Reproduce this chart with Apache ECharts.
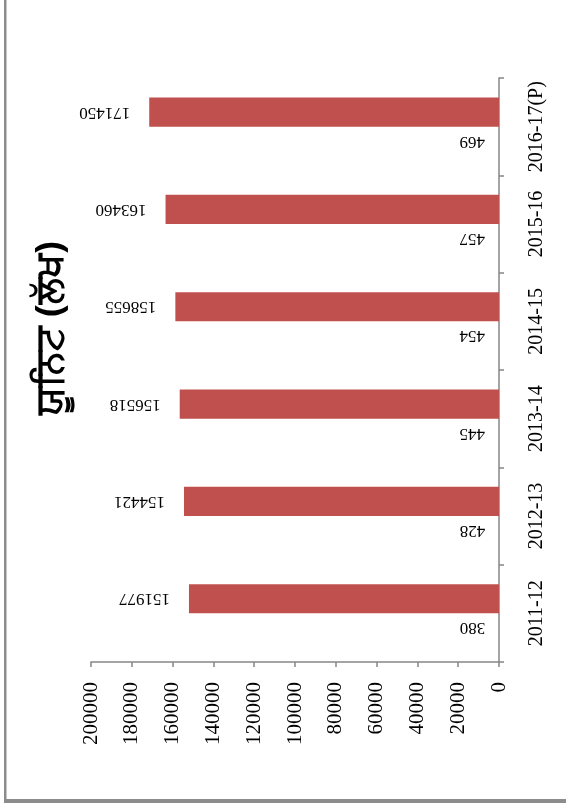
<!DOCTYPE html>
<html>
<head>
<meta charset="utf-8">
<script src="https://cdn.jsdelivr.net/npm/echarts@6/dist/echarts.min.js"></script>
<style>
html,body{margin:0;padding:0;background:#fff;}
#c{width:566px;height:803px;}
</style>
</head>
<body>
<div id="c"></div>
<script>
var categories = ['2011-12','2012-13','2013-14','2014-15','2015-16','2016-17(P)'];
var unitsLakh = [151977, 154421, 156518, 158655, 163460, 171450];
var smallSeries = [380, 428, 445, 454, 457, 469];
var titleText = 'ਯੂਨਿਟ (ਲੱਖ)';

var serif = 'Liberation Serif, Times New Roman, serif';
var chart = echarts.init(document.getElementById('c'));
chart.setOption({
  animation: false,
  backgroundColor: '#fff',
  grid: {left: 91, right: 67, top: 78, bottom: 141, containLabel: false},
  xAxis: {
    type: 'value', inverse: true, min: 0, max: 200000, interval: 20000,
    position: 'bottom',
    axisLine: {show: true, lineStyle: {color: '#868686', width: 1.5}},
    axisTick: {show: true, length: 5, lineStyle: {color: '#868686', width: 1.5}},
    splitLine: {show: false},
    axisLabel: {rotate: 90, margin: 20, color: '#000', fontFamily: serif, fontSize: 21,
                formatter: function (v) { return String(v); }}
  },
  yAxis: {
    type: 'category', data: categories, position: 'right',
    axisLine: {show: true, lineStyle: {color: '#868686', width: 1.5}},
    axisTick: {show: true, length: 5, alignWithLabel: false, lineStyle: {color: '#868686', width: 1.5}},
    splitLine: {show: false},
    axisLabel: {rotate: 90, margin: 28, interval: 0, hideOverlap: false, color: '#000', fontFamily: serif, fontSize: 20}
  },
  series: [
    {
      type: 'bar', data: unitsLakh, barGap: '0%', barCategoryGap: '40%',
      itemStyle: {color: '#C0504D'},
      label: {show: true, position: 'left', distance: 19, rotate: 180, align: 'left', verticalAlign: 'middle',
              color: '#000', fontFamily: serif, fontSize: 17}
    },
    {
      type: 'bar', data: smallSeries, barGap: '0%', barCategoryGap: '40%',
      itemStyle: {color: 'rgba(79,129,189,0)'},
      label: {show: true, position: 'left', distance: 13, rotate: 180, align: 'left', verticalAlign: 'middle',
              color: '#000', fontFamily: serif, fontSize: 17}
    }
  ],
  graphic: [
    {type: 'text', x: 51, y: 328, rotation: Math.PI / 2,
     style: {text: titleText, fill: '#000', font: 'bold 38px "Noto Sans", sans-serif', textAlign: 'center', textVerticalAlign: 'middle'}},
    {type: 'rect', shape: {x: 4, y: 0, width: 2.5, height: 803}, style: {fill: '#8c8c8c'}},
    {type: 'rect', shape: {x: 4, y: 799, width: 562, height: 4}, style: {fill: '#8c8c8c'}}
  ]
});
</script>
</body>
</html>
